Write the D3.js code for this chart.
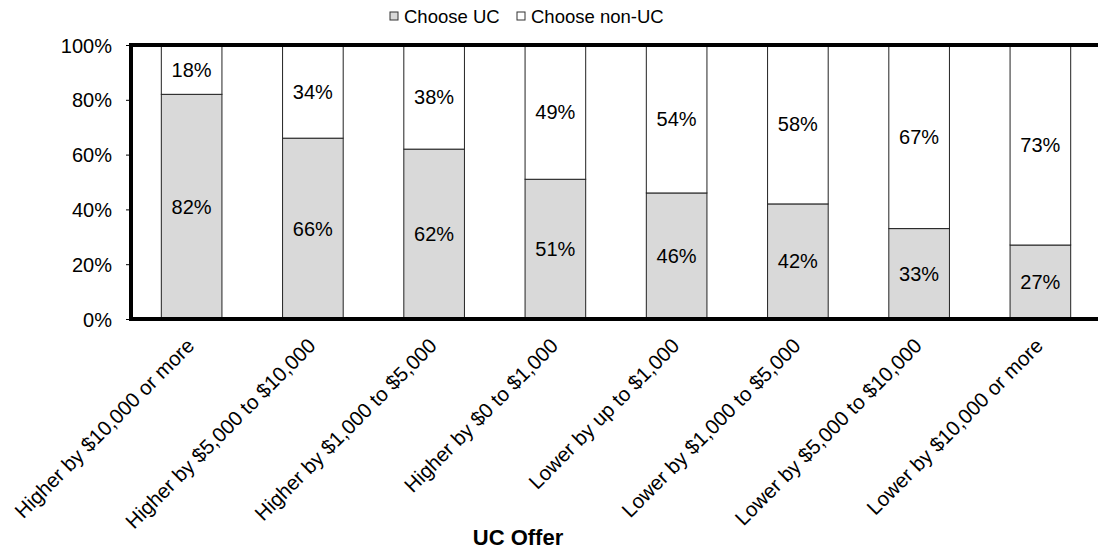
<!DOCTYPE html>
<html><head><meta charset="utf-8">
<script src="https://cdn.jsdelivr.net/npm/d3@7"></script>
<style>body{margin:0;background:#fff}svg{display:block;font-family:"Liberation Sans",Arial,sans-serif}</style>
</head><body><svg id="c" width="1098" height="552"></svg>
<script>
const categories = ["Higher by $10,000 or more","Higher by $5,000 to $10,000","Higher by $1,000 to $5,000","Higher by $0 to $1,000","Lower by up to $1,000","Lower by $1,000 to $5,000","Lower by $5,000 to $10,000","Lower by $10,000 or more"];
const chooseUC = [82,66,62,51,46,42,33,27];
const chooseNonUC = [18,34,38,49,54,58,67,73];
const seriesNames = ["Choose UC","Choose non-UC"];
const yTicks = [0,20,40,60,80,100];

const svg = d3.select("#c");
const L = 131, R = 1101, T = 45, B = 319;
const x = d3.scaleBand().domain(categories).range([L, R]).paddingInner(0.5).paddingOuter(0.25);
const y = d3.scaleLinear().domain([0,100]).range([B, T]);
const colors = ["#d9d9d9","#ffffff"];

const data = categories.map((c,i)=>({cat:c, uc:chooseUC[i], non:chooseNonUC[i]}));
const stack = d3.stack().keys(["uc","non"])(data);

stack.forEach((s,si)=>{
  svg.append("g").selectAll("rect").data(s).join("rect")
    .attr("x", d=>x(d.data.cat)).attr("width", x.bandwidth())
    .attr("y", d=>y(d[1])).attr("height", d=>y(d[0])-y(d[1]))
    .attr("fill", colors[si]).attr("stroke","#222").attr("stroke-width",1);
  svg.append("g").selectAll("text").data(s).join("text")
    .attr("x", d=>x(d.data.cat)+x.bandwidth()/2)
    .attr("y", d=>(y(d[0])+y(d[1]))/2 + 7)
    .attr("text-anchor","middle").attr("font-size",20).attr("fill","#000")
    .text(d=>(d[1]-d[0])+"%");
});

// y axis
const yAxis = svg.append("g").attr("transform",`translate(${L},0)`)
  .call(d3.axisLeft(y).tickValues(yTicks).tickFormat(d=>d+"%").tickSize(5).tickPadding(14));
yAxis.select(".domain").remove();
yAxis.selectAll("line").attr("stroke","#000");
yAxis.selectAll("text").attr("font-size",20).attr("font-family","Liberation Sans, Arial, sans-serif").attr("fill","#000").attr("dy","0.35em");

// frame lines
svg.append("line").attr("x1",L-2).attr("x2",1098).attr("y1",T).attr("y2",T).attr("stroke","#000").attr("stroke-width",4);
svg.append("line").attr("x1",L-2).attr("x2",1098).attr("y1",B).attr("y2",B).attr("stroke","#000").attr("stroke-width",4);
svg.append("line").attr("x1",L).attr("x2",L).attr("y1",T).attr("y2",B).attr("stroke","#000").attr("stroke-width",4);

// x labels
svg.append("g").selectAll("text").data(categories).join("text")
  .attr("transform", d=>`translate(${x(d)+x.bandwidth()/2+4},${B+28}) rotate(-45)`)
  .attr("text-anchor","end").attr("font-size",20.5).attr("fill","#000")
  .text(d=>d);

svg.append("text").attr("x",518).attr("y",545).attr("text-anchor","middle")
  .attr("font-size",22).attr("font-weight","bold").text("UC Offer");

// legend
const lg = svg.append("g");
const lx = [390, 517];
seriesNames.forEach((n,i)=>{
  lg.append("rect").attr("x",lx[i]).attr("y",12).attr("width",8).attr("height",8)
    .attr("fill",colors[i]).attr("stroke","#333").attr("stroke-width",1);
  lg.append("text").attr("x",lx[i]+14).attr("y",22.5).attr("font-size",18.5).attr("fill","#000").text(n);
});
</script></body></html>
